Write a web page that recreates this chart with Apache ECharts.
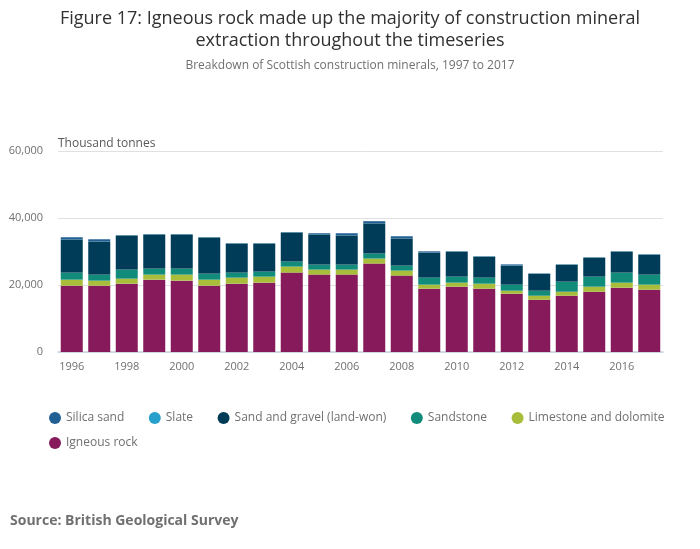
<!DOCTYPE html>
<html>
<head>
<meta charset="utf-8">
<title>Scottish construction minerals</title>
<script src="https://cdn.jsdelivr.net/npm/echarts@6/dist/echarts.min.js"></script>
<style>
  html, body { margin: 0; padding: 0; background: #fff; }
  #chartmain { width: 700px; height: 549px; }
</style>
</head>
<body>
<div id="chartmain"></div>
<script>
// years on the x axis
var years = ['1996', '1997', '1998', '1999', '2000', '2001', '2002', '2003', '2004', '2005', '2006',
             '2007', '2008', '2009', '2010', '2011', '2012', '2013', '2014', '2015', '2016', '2017'];

// thousand tonnes
var igneous   = [19800, 19800, 20400, 21600, 21300, 19800, 20400, 20700, 23700, 23100, 23100,
                 26400, 22800, 18900, 19500, 18900, 17400, 15600, 16800, 18000, 19200, 18600];
var limestone = [1800, 1500, 1500, 1500, 1800, 1800, 1800, 1800, 1800, 1500, 1500,
                 1500, 1500, 1200, 1200, 1500, 900, 1200, 1200, 1500, 1500, 1500];
var sandstone = [2100, 1800, 2700, 1800, 1800, 1800, 1500, 1500, 1500, 1500, 1500,
                 1500, 1500, 2100, 1800, 1800, 1800, 1500, 3000, 3000, 3000, 3000];
var sandGravel = [9900, 9900, 10200, 10200, 10200, 10800, 8700, 8400, 8700, 9000, 8700,
                  9000, 8100, 7500, 7500, 6300, 5700, 5100, 5100, 5700, 6300, 6000];
var slate     = [50, 50, 50, 50, 50, 50, 50, 50, 50, 50, 50,
                 50, 50, 50, 50, 50, 50, 50, 50, 50, 50, 50];
var silica    = [600, 600, 0, 0, 0, 0, 0, 0, 0, 300, 600,
                 600, 600, 300, 0, 0, 300, 0, 0, 0, 0, 0];

var yTicks = [0, 20000, 40000, 60000];

// legend rows as in the original
var legendRow1 = ['Silica sand', 'Slate', 'Sand and gravel (land-won)', 'Sandstone', 'Limestone and dolomite'];
var legendRow2 = ['Igneous rock'];

var colors = {
  'Igneous rock': '#871a5b',
  'Limestone and dolomite': '#a8bd3a',
  'Sandstone': '#118c7b',
  'Sand and gravel (land-won)': '#003c57',
  'Slate': '#27a0cc',
  'Silica sand': '#206095'
};

// stacked from bottom up
var stackOrder = [
  ['Igneous rock', igneous],
  ['Limestone and dolomite', limestone],
  ['Sandstone', sandstone],
  ['Sand and gravel (land-won)', sandGravel],
  ['Slate', slate],
  ['Silica sand', silica]
];

var series = [];
stackOrder.forEach(function(s) {
  series.push({
    name: s[0],
    type: 'bar',
    stack: 'total',
    barCategoryGap: '20%',
    itemStyle: { color: colors[s[0]] },
    data: s[1]
  });
});

var font = '"Open Sans", "Noto Sans", sans-serif';
var legendText = { fontFamily: font, fontSize: 12, color: '#707070' };

var option = {
  animation: false,
  textStyle: { fontFamily: font },
  title: {
    text: 'Figure 17: Igneous rock made up the majority of construction mineral\nextraction throughout the timeseries',
    subtext: 'Breakdown of Scottish construction minerals, 1997 to 2017',
    left: 'center',
    top: 3,
    itemGap: 8,
    textStyle: { fontFamily: font, fontSize: 18, fontWeight: 'normal', color: '#323132', lineHeight: 22 },
    subtextStyle: { fontFamily: font, fontSize: 12, color: '#707070' }
  },
  legend: [{
    data: legendRow1,
    left: 44,
    top: 407,
    icon: 'circle',
    itemWidth: 12,
    itemHeight: 12,
    itemGap: 24.5,
    textStyle: legendText
  }, {
    data: legendRow2,
    left: 44,
    top: 432,
    icon: 'circle',
    itemWidth: 12,
    itemHeight: 12,
    textStyle: legendText
  }],
  grid: { left: 58, right: 37, top: 151, bottom: 197, containLabel: false },
  xAxis: [{
    type: 'category',
    data: years,
    axisLine: { lineStyle: { color: '#c6d4e3', width: 1.5 } },
    axisTick: { alignWithLabel: true, interval: 1, length: 6, lineStyle: { color: '#c6d4e3', width: 1.5 } },
    axisLabel: { interval: 1, color: '#707070', fontSize: 11, margin: 9 }
  }],
  yAxis: [{
    type: 'value',
    min: 0,
    max: yTicks[yTicks.length - 1],
    interval: yTicks[1] - yTicks[0],
    axisLine: { show: false },
    axisTick: { show: false },
    splitLine: { lineStyle: { color: '#e0e0e0' } },
    axisLabel: {
      color: '#707070', fontSize: 11, margin: 15,
      formatter: function(v) { return v.toLocaleString('en-GB'); }
    }
  }],
  graphic: [
    { type: 'text', left: 58, top: 138, style: { text: 'Thousand tonnes', fontFamily: font, fontSize: 12, fill: '#58595b' } },
    { type: 'text', left: 10, top: 514, style: { text: 'Source: British Geological Survey', fontFamily: font, fontSize: 14, fontWeight: 'bold', fill: '#707070' } }
  ],
  series: series
};

var myChart = echarts.init(document.getElementById('chartmain'));
myChart.setOption(option);
</script>
</body>
</html>
